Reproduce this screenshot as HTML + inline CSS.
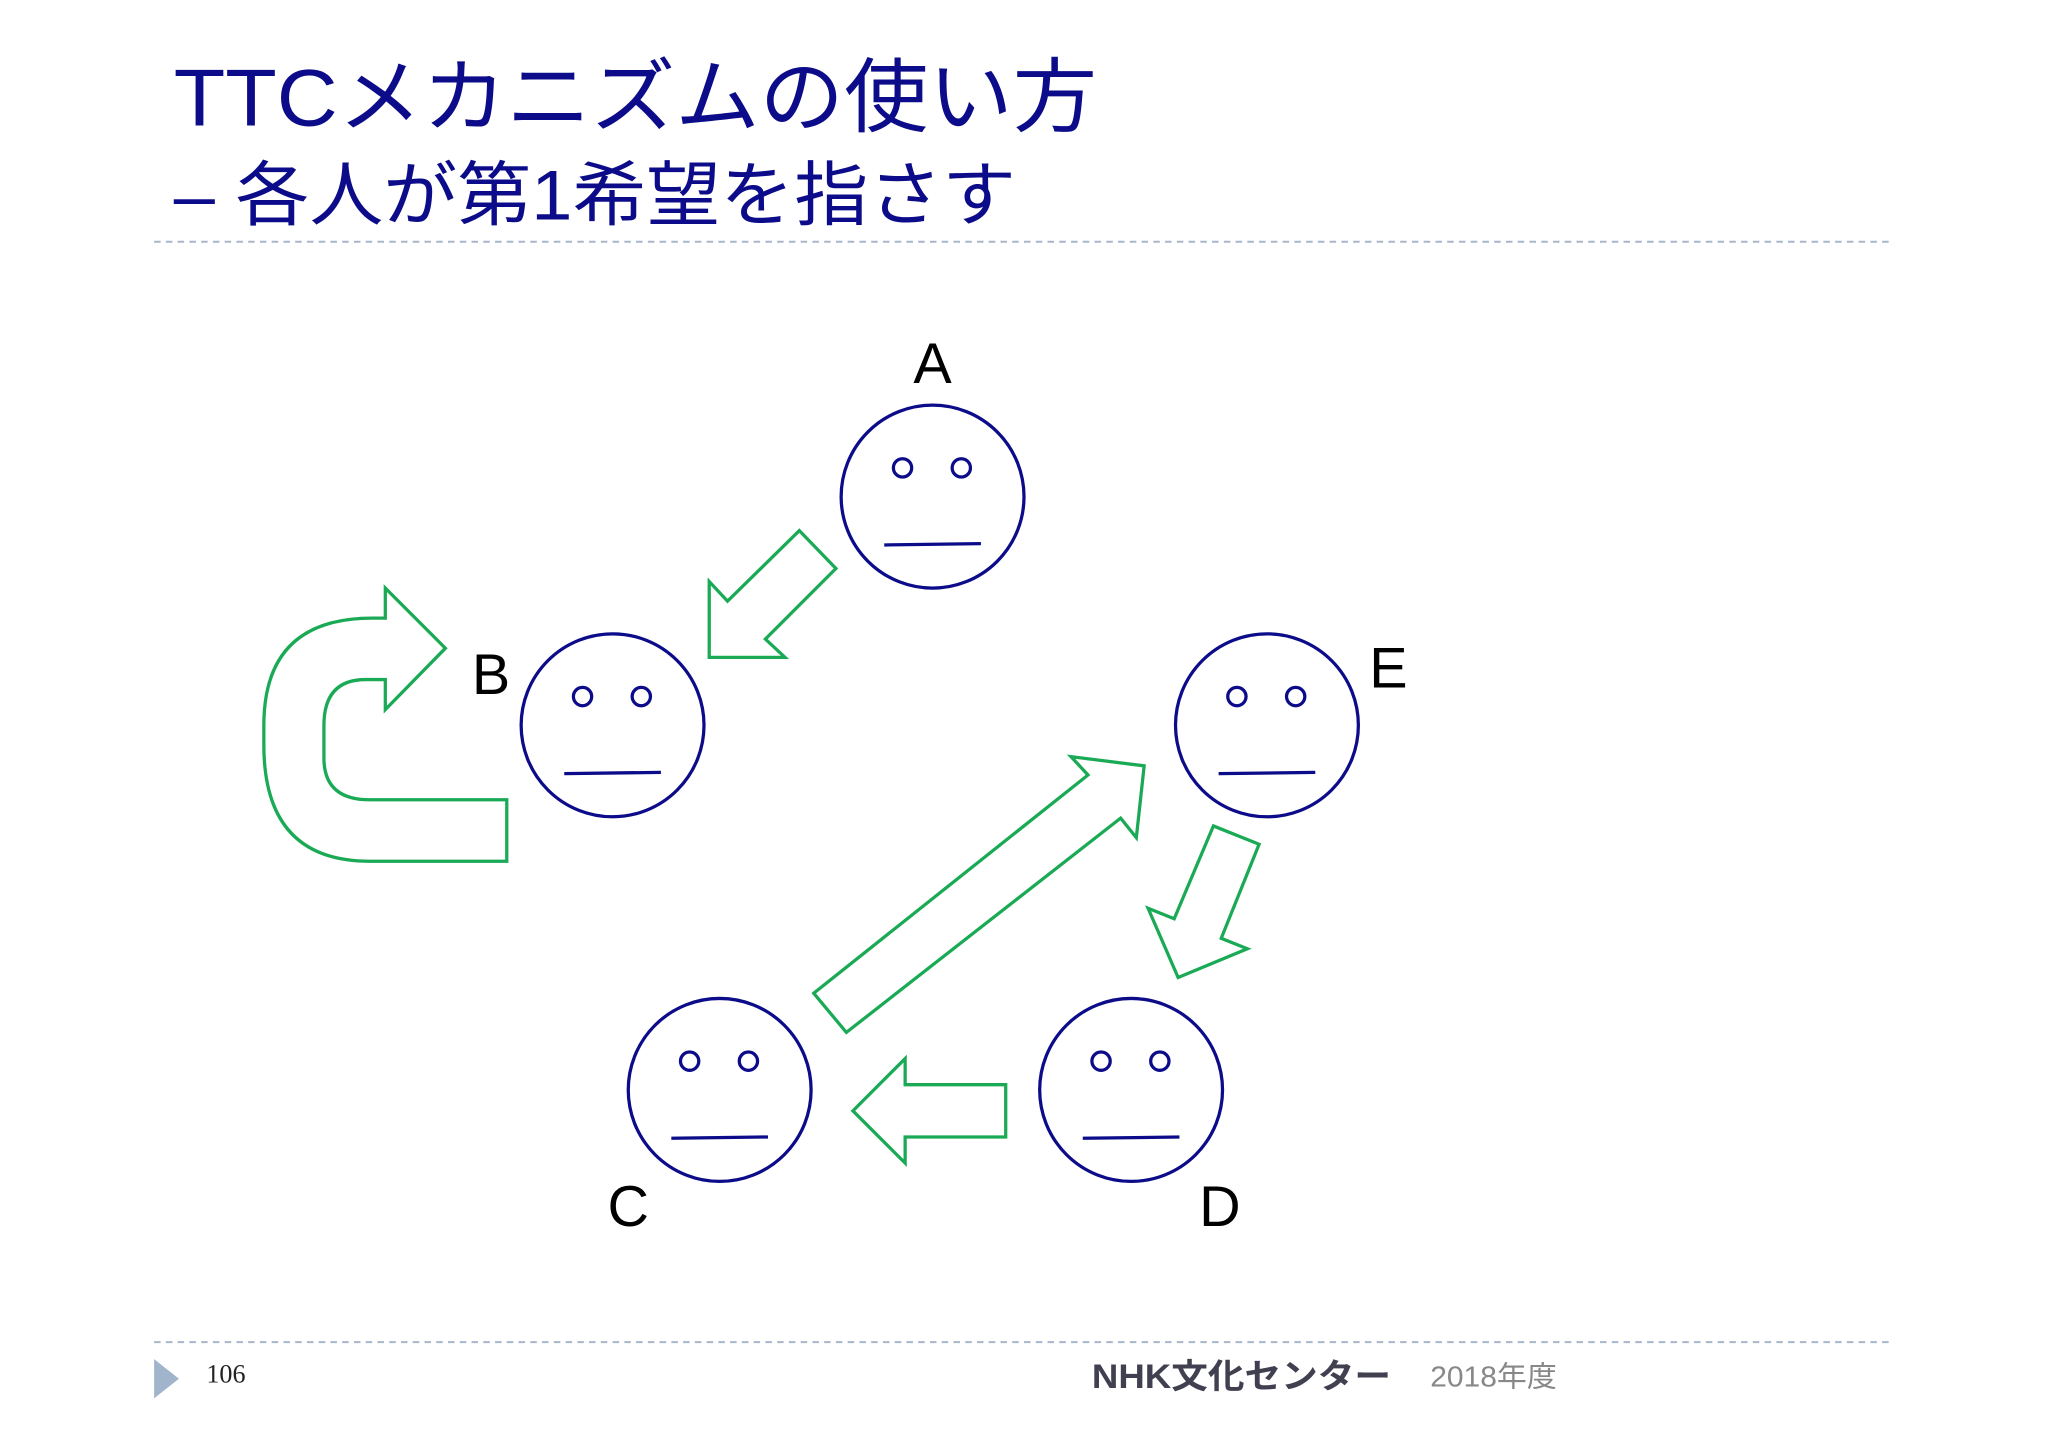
<!DOCTYPE html>
<html><head><meta charset="utf-8"><style>
html,body{margin:0;padding:0;background:#fff;width:2048px;height:1448px;overflow:hidden}
svg{display:block}
</style></head><body>
<svg width="2048" height="1448" viewBox="0 0 1568 1108" preserveAspectRatio="none">
<rect width="1568" height="1108" fill="#fff"/>
<text x="133" y="96" font-family="Liberation Sans, Noto Sans CJK JP, sans-serif" font-size="62" fill="#0c0c8a" textLength="707" lengthAdjust="spacingAndGlyphs">TTCメカニズムの使い方</text>
<text x="133" y="168" font-family="Liberation Sans, Noto Sans CJK JP, sans-serif" font-size="54" fill="#0c0c8a" textLength="645" lengthAdjust="spacingAndGlyphs">– 各人が第1希望を指さす</text>
<line x1="118" y1="185" x2="1450" y2="185" stroke="#a8b6cc" stroke-width="1.5" stroke-dasharray="5,4"/>
<line x1="118" y1="1027" x2="1450" y2="1027" stroke="#a8b6cc" stroke-width="1.5" stroke-dasharray="5,4"/>
<g fill="none" stroke="#0c0c8a" stroke-width="2.5">
<g transform="translate(714,380)"><circle r="70"/><circle cx="-23" cy="-22" r="7"/><circle cx="22" cy="-22" r="7"/><line x1="-37" y1="37" x2="37" y2="36"/></g>
<g transform="translate(469,555)"><circle r="70"/><circle cx="-23" cy="-22" r="7"/><circle cx="22" cy="-22" r="7"/><line x1="-37" y1="37" x2="37" y2="36"/></g>
<g transform="translate(970,555)"><circle r="70"/><circle cx="-23" cy="-22" r="7"/><circle cx="22" cy="-22" r="7"/><line x1="-37" y1="37" x2="37" y2="36"/></g>
<g transform="translate(551,834)"><circle r="70"/><circle cx="-23" cy="-22" r="7"/><circle cx="22" cy="-22" r="7"/><line x1="-37" y1="37" x2="37" y2="36"/></g>
<g transform="translate(866,834)"><circle r="70"/><circle cx="-23" cy="-22" r="7"/><circle cx="22" cy="-22" r="7"/><line x1="-37" y1="37" x2="37" y2="36"/></g>
</g>
<g font-family="Liberation Sans, sans-serif" font-size="44" fill="#000" text-anchor="middle">
<text x="714" y="293">A</text>
<text x="376" y="531">B</text>
<text x="1063" y="526">E</text>
<text x="481" y="938">C</text>
<text x="934" y="938">D</text>
</g>
<g fill="none" stroke="#1aaa55" stroke-width="2.5" stroke-linejoin="miter">
<polygon points="612,406 640,435 586,489 601,503 543,503 543,445 557,460"/>
<polygon points="623,760 648,790 858,626 870,641 876,586 820,579 833,593"/>
<polygon points="929,632 964,646 935,718 955,726 902,748 879,695 899,703"/>
<polygon points="770,830 770,870 693,870 693,890 653,850 693,810 693,830"/>
<path d="M388,612 L388,659 L283,659 Q202,659 202,570 L202,555 Q202,473 285,473 L295,473 L295,450 L341,496 L295,543 L295,520 L280,520 Q248,520 248,555 L248,580 Q248,612 283,612 Z"/>
</g>
<polygon points="118,1040 137,1055 118,1070" fill="#a0b4cc"/>
<text x="158" y="1058" font-family="Liberation Serif, serif" font-size="20" fill="#222">106</text>
<text x="836" y="1062" font-family="Liberation Sans, Noto Sans CJK JP, sans-serif" font-size="26" font-weight="bold" fill="#404050" textLength="229" lengthAdjust="spacingAndGlyphs">NHK文化センター</text>
<text x="1095" y="1061" font-family="Liberation Sans, Noto Sans CJK JP, sans-serif" font-size="22" fill="#888" textLength="97" lengthAdjust="spacingAndGlyphs">2018年度</text>
</svg>
</body></html>
